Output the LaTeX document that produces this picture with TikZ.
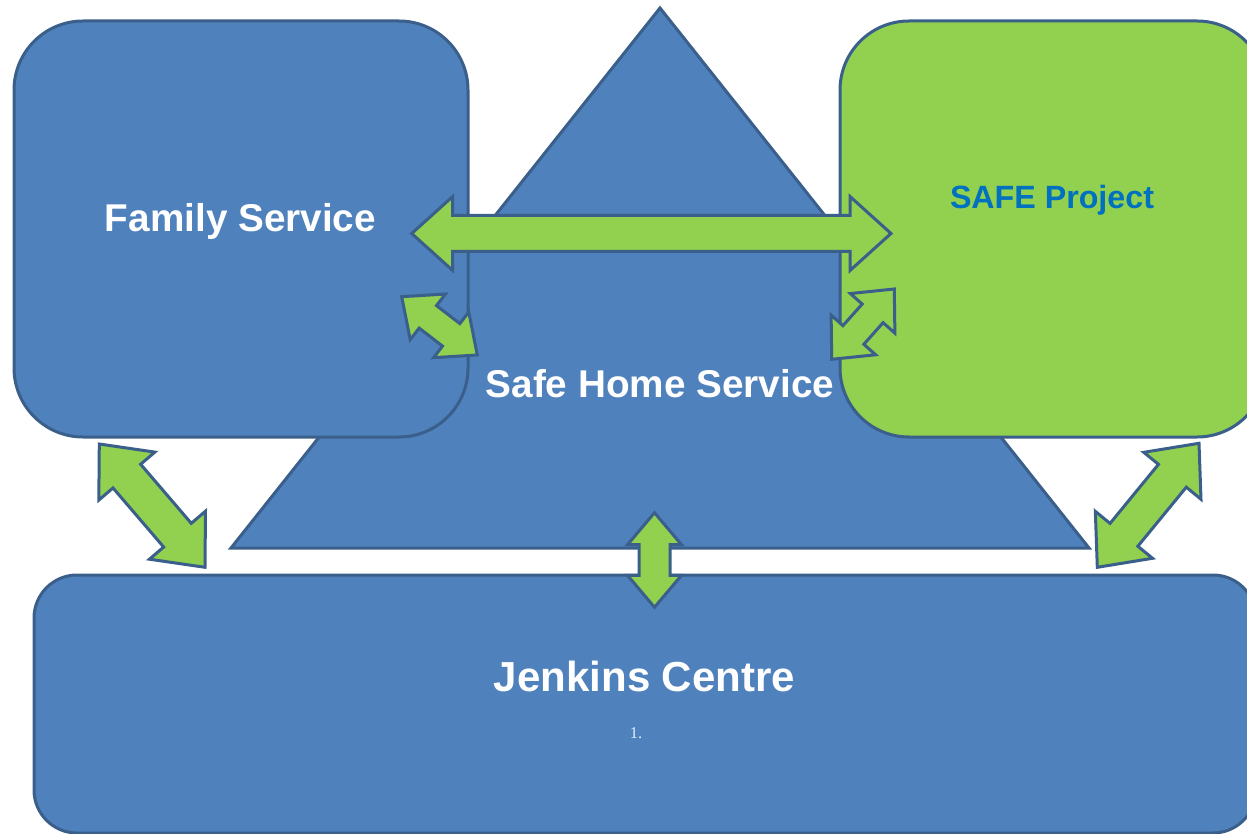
\documentclass[tikz,border=0pt]{standalone}
\usepackage{fontspec}
\setmainfont{Liberation Sans}
\newfontfamily\numfont{Liberation Serif}
\usetikzlibrary{calc}
\definecolor{boxblue}{HTML}{4F81BD}
\definecolor{edgeblue}{HTML}{3A5F8B}
\definecolor{boxgreen}{HTML}{92D050}
\definecolor{safeblue}{HTML}{0070C0}
\definecolor{numwhite}{HTML}{E4ECF7}
\tikzset{
  roundbox/.style={draw=edgeblue, line width=3pt, rectangle, inner sep=0pt, outer sep=0pt},
  blockarrow/.style={draw=edgeblue, line width=3pt, fill=boxgreen, line join=miter},
  bigtext/.style={font=\bfseries\fontsize{38.7}{40}\selectfont, text=white, anchor=base, inner sep=0pt},
}
\newcommand{\dblblock}[6]{%
  \coordinate (#1-h1) at ($(#2)!#6!(#3)$);
  \coordinate (#1-h2) at ($(#3)!#6!(#2)$);
  \draw[blockarrow] (#2) -- ($(#1-h1)!#5!90:(#3)$) -- ($(#1-h1)!#4!90:(#3)$)
    -- ($(#1-h2)!#4!-90:(#2)$) -- ($(#1-h2)!#5!-90:(#2)$) -- (#3)
    -- ($(#1-h2)!#5!90:(#2)$) -- ($(#1-h2)!#4!90:(#2)$)
    -- ($(#1-h1)!#4!-90:(#3)$) -- ($(#1-h1)!#5!-90:(#3)$) -- cycle;
}
\begin{document}
\begin{tikzpicture}[x=1pt, y=-1pt]
\useasboundingbox (0,0) rectangle (1247,834);
\clip (0,0) rectangle (1247,834);
% triangle
\coordinate (apex) at (660,8);
\coordinate (baseL) at (231,548);
\coordinate (baseR) at (1089,548);
\draw[draw=edgeblue, line width=3pt, fill=boxblue, line join=miter] (apex) -- (baseR) -- (baseL) -- cycle;
% boxes
\node[roundbox, fill=boxblue, rounded corners=69pt, minimum width=454pt, minimum height=416pt] (family) at (241,229) {};
\node[roundbox, fill=boxgreen, rounded corners=69pt, minimum width=426pt, minimum height=416pt] (safe) at (1053,229) {};
\node[roundbox, fill=boxblue, rounded corners=43pt, minimum width=1222pt, minimum height=258pt] (jenkins) at (645,704) {};
% arrow end points
\coordinate (hA) at (411.7,233.5);
\coordinate (hB) at (891,233.5);
\coordinate (lA) at (401.7,296.7);
\coordinate (lB) at (477.3,355);
\coordinate (rA) at (894.3,289);
\coordinate (rB) at (831.7,359.3);
\coordinate (vA) at (654.5,512.7);
\coordinate (vB) at (654.5,607.3);
\coordinate (blA) at (99.3,444);
\coordinate (blB) at (205,567.3);
\coordinate (brA) at (1199,443.3);
\coordinate (brB) at (1097.3,567.3);
\dblblock{harr}{hA}{hB}{18pt}{37pt}{41pt}
\dblblock{larr}{lA}{lB}{14.2pt}{28.8pt}{33pt}
\dblblock{rarr}{rA}{rB}{14pt}{29.8pt}{32.6pt}
\dblblock{varr}{vA}{vB}{15.5pt}{27pt}{32pt}
\dblblock{blarr}{blA}{blB}{18.2pt}{36.9pt}{42.3pt}
\dblblock{brarr}{brA}{brB}{18pt}{37pt}{42pt}
% texts
\node[bigtext] (familytext) at (240.5,232) {Family Service};
\node[bigtext] (safehometext) at (660,397) {Safe Home Service};
\node[bigtext, font=\bfseries\fontsize{32.2}{34}\selectfont, text=safeblue] (safetext) at (1052,208.5) {SAFE Project};
\node[bigtext, font=\bfseries\fontsize{42}{44}\selectfont] (jenkinstext) at (644.5,691) {Jenkins Centre};
\node[anchor=base, inner sep=0pt, text=numwhite, font=\numfont\fontsize{16.5}{18}\selectfont] (numtext) at (636,738.5) {1.};
\end{tikzpicture}
\end{document}
